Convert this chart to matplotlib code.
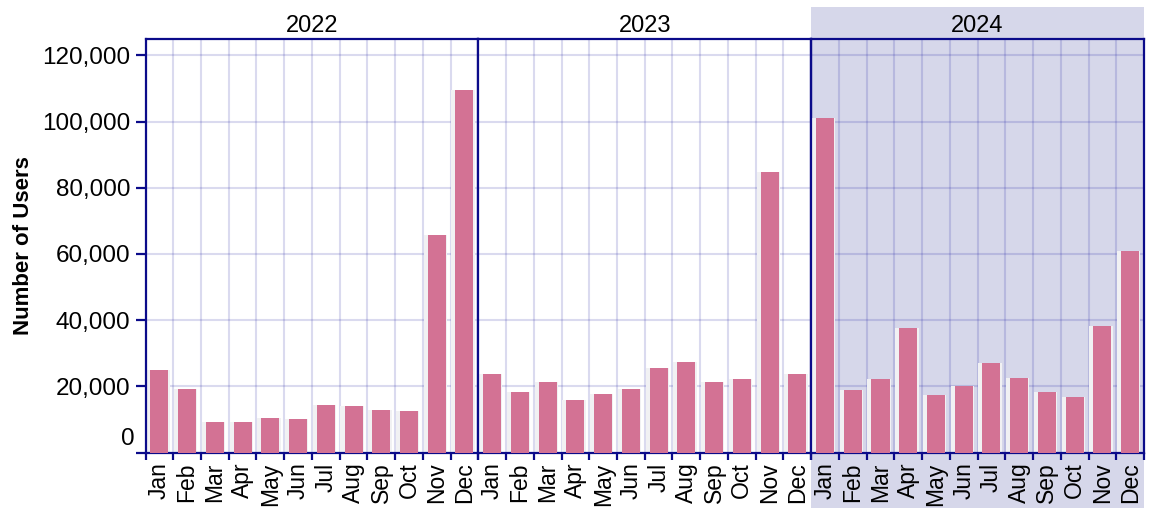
import matplotlib
matplotlib.use("Agg")
import matplotlib.pyplot as plt
from matplotlib.patches import Rectangle
from matplotlib.ticker import FuncFormatter

plt.rcParams['font.family'] = ['Liberation Sans', 'DejaVu Sans']

years = ["2022", "2023", "2024"]
months = ["Jan", "Feb", "Mar", "Apr", "May", "Jun", "Jul", "Aug", "Sep", "Oct", "Nov", "Dec"]
users_2022 = [25000, 19200, 9300, 9300, 10500, 10200, 14400, 14100, 12900, 12600, 65700, 109400]
users_2023 = [23700, 18300, 21300, 15900, 17700, 19200, 25600, 27400, 21300, 22200, 84700, 23700]
users_2024 = [101000, 18900, 22200, 37600, 17400, 20100, 27100, 22500, 18300, 16800, 38200, 60900]
series = [users_2022, users_2023, users_2024]
y_ticks = [0, 20000, 40000, 60000, 80000, 100000, 120000]
y_max = 125000

W, H = 1152, 508
fig = plt.figure(figsize=(W / 100, H / 100), dpi=100)
fig.patch.set_facecolor('white')

navy = '#0b0b8a'
bar_color = '#d37294'
shadow_color = '#f1f1f3'
lavender = '#d6d7ea'

left_px, right_px = 145.5, 1144.0
top_px, bot_px = 38.7, 452.7
pw = (right_px - left_px) / 3

# highlighted 2024 background
fig.patches.append(Rectangle(((left_px + 2 * pw) / W, 0), pw / W, (H - 7) / H,
                             transform=fig.transFigure, facecolor=lavender,
                             edgecolor='none', zorder=-5))

n = len(months)
centers = [i + 0.5 for i in range(n)]
for k, (yr, vals) in enumerate(zip(years, series)):
    ax = fig.add_axes([(left_px + k * pw) / W, (H - bot_px) / H, pw / W, (bot_px - top_px) / H])
    ax.set_facecolor('none' if k == 2 else 'white')
    ax.set_xlim(0, n)
    ax.set_ylim(0, y_max)
    ax.set_axisbelow(True)
    # shadow behind bars
    ax.bar([c - 0.05 for c in centers], vals, width=0.84, color=shadow_color, zorder=2)
    ax.bar(centers, vals, width=0.65, color=bar_color, zorder=3)
    ax.set_xticks(centers)
    ax.set_xticklabels(months, rotation=90, fontsize=16.5, va='top', ha='center')
    ax.set_xticks(range(n + 1), minor=True)
    ax.tick_params(axis='x', which='major', length=0, pad=7)
    ax.tick_params(axis='x', which='minor', length=5, width=1.6, color=navy)
    ax.set_yticks(y_ticks)
    ax.grid(which='minor', axis='x', color='#1a1aa0', alpha=0.16, linewidth=1.5)
    ax.grid(which='major', axis='y', color='#1a1aa0', alpha=0.16, linewidth=1.5)
    ax.grid(which='major', axis='x', visible=False)
    for s in ax.spines.values():
        s.set_color(navy)
        s.set_linewidth(1.6)
    ax.set_title(yr, fontsize=17, pad=5)
    if k == 0:
        ax.yaxis.set_major_formatter(FuncFormatter(lambda v, p: '' if v == 0 else f'{int(v):,}'))
        ax.tick_params(axis='y', length=7, width=1.6, color=navy, labelsize=17.5, pad=4)
        ax.annotate('0', xy=(0, 0), xycoords=('axes fraction', 'data'), xytext=(-11, 14),
                    textcoords='offset pixels', ha='right', va='center', fontsize=17.5)
        ax.set_ylabel('Number of Users', fontsize=16, fontweight='bold', labelpad=6)
    else:
        ax.tick_params(axis='y', length=0, labelleft=False)

fig.savefig('out.png', dpi=100)
